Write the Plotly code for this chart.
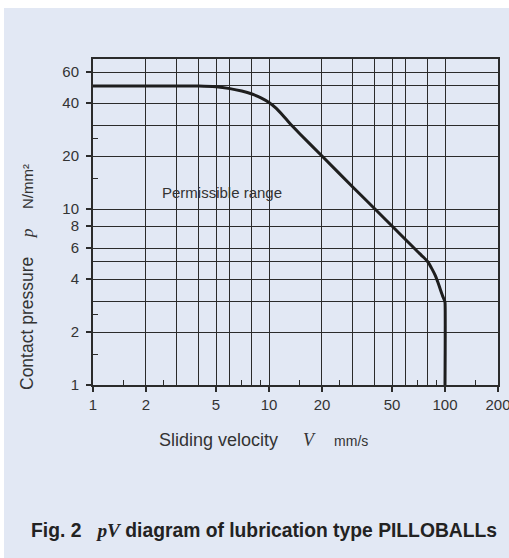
import numpy as np
import plotly.graph_objects as go

# ---- data ----
velocity = [1, 2, 3, 4, 5, 6, 7, 8, 9, 10, 11, 12, 13, 15, 20, 30, 40, 50, 60, 70, 75, 80, 84, 88, 91, 94, 97, 99, 100, 100]
pressure = [50, 50, 50, 50, 49.5, 48.3, 46.8, 45, 42.8, 40.3, 37.3, 34, 31, 26.7, 20, 13.3, 10, 8, 6.67, 5.72, 5.35, 5, 4.6, 4.2, 3.85, 3.5, 3.2, 3.05, 2.95, 1]

x_label_vals = [1, 2, 5, 10, 20, 50, 100, 200]
x_grid_vals = [3, 4, 6, 8, 30, 40, 60, 80]
x_small_ticks = [1.5, 2.5, 7, 9, 15, 25, 70, 90, 150]

y_label_vals = [1, 2, 4, 6, 8, 10, 20, 40, 60]
y_grid_vals = [3, 5, 30, 50]
y_small_ticks = [1.5, 2.5, 15, 25]

BG = "#e2e8f4"
INK = "#2b2b2b"
SANS = "Liberation Sans, Arial, sans-serif"
SERIF = "Liberation Serif"

W, H = 509, 558
L, R, T, B = 93, 11, 59, 173
pw = W - L - R
ph = H - T - B


def px(xpix):
    return (xpix - L) / pw


def py(ypix):
    return 1 - (ypix - T) / ph


fig = go.Figure()
fig.add_trace(go.Scatter(x=velocity, y=pressure, mode="lines",
                         line=dict(color="#1e1e1e", width=3, shape="spline", smoothing=0.4),
                         showlegend=False, hoverinfo="skip"))
# helper invisible trace for overlay axes (small inside ticks)
fig.add_trace(go.Scatter(x=[1], y=[1], xaxis="x2", yaxis="y2", mode="markers",
                         marker=dict(opacity=0), showlegend=False, hoverinfo="skip"))

xr = [0, np.log10(200) + 1e-4]
yr = [0, (385 - 59) / 176]

fig.update_layout(
    width=W, height=H,
    margin=dict(l=L, r=R, t=T, b=B, autoexpand=False),
    paper_bgcolor=BG,
    plot_bgcolor=BG,
    font=dict(family=SANS, size=15, color="#333"),
    xaxis=dict(type="log", range=xr, tickmode="array", tickvals=x_label_vals,
               ticktext=[str(v) for v in x_label_vals], automargin=False,
               ticklabeloverflow="allow",
               ticks="outside", ticklen=5, tickwidth=1.5, tickcolor=INK,
               showgrid=True, gridcolor=INK, gridwidth=1,
               showline=True, linecolor=INK, linewidth=2, mirror=True,
               zeroline=False,
               minor=dict(tickmode="array", tickvals=x_grid_vals, showgrid=True,
                          gridcolor=INK, gridwidth=1, ticks=""),
               tickfont=dict(size=15, color="#333")),
    yaxis=dict(type="log", range=yr, tickmode="array", tickvals=y_label_vals,
               ticktext=[str(v) for v in y_label_vals], automargin=False,
               ticks="outside", ticklen=5, tickwidth=1.5, tickcolor=INK,
               ticklabelstandoff=4,
               showgrid=True, gridcolor=INK, gridwidth=1,
               showline=True, linecolor=INK, linewidth=2, mirror=True,
               zeroline=False,
               minor=dict(tickmode="array", tickvals=y_grid_vals, showgrid=True,
                          gridcolor=INK, gridwidth=1, ticks=""),
               tickfont=dict(size=15, color="#333")),
    xaxis2=dict(type="log", range=xr, overlaying="x", side="bottom", anchor="y",
                tickmode="array", tickvals=x_small_ticks, ticks="inside", ticklen=5,
                tickwidth=1, tickcolor=INK, showticklabels=False, showgrid=False,
                showline=False, zeroline=False, automargin=False),
    yaxis2=dict(type="log", range=yr, overlaying="y", side="left", anchor="x",
                tickmode="array", tickvals=y_small_ticks, ticks="inside", ticklen=5,
                tickwidth=1, tickcolor=INK, showticklabels=False, showgrid=False,
                showline=False, zeroline=False, automargin=False),
)

# white page edges around the light-blue panel
fig.add_shape(type="rect", xref="paper", yref="paper", layer="above",
              x0=px(-2), x1=px(4), y0=py(H + 2), y1=py(-2),
              fillcolor="white", line=dict(width=0))
fig.add_shape(type="rect", xref="paper", yref="paper", layer="above",
              x0=px(-2), x1=px(W + 2), y0=py(8), y1=py(-2),
              fillcolor="white", line=dict(width=0))

fig.add_annotation(x=np.log10(5.4), y=np.log10(12.4), xref="x", yref="y",
                   text="Permissible range", showarrow=False,
                   xanchor="center", yanchor="middle",
                   font=dict(size=15, color="#333", family=SANS))

fig.add_annotation(x=px(263), y=py(440), xref="paper", yref="paper",
                   xanchor="center", yanchor="middle",
                   text=f"Sliding velocity     <span style='font-family:{SERIF}'><i>V</i></span>    <span style='font-size:14px'>mm/s</span>",
                   showarrow=False, font=dict(size=18, color="#333", family=SANS))

fig.add_annotation(x=px(27), y=py(277), xref="paper", yref="paper",
                   xanchor="center", yanchor="middle",
                   text=f"Contact pressure    <span style='font-family:{SERIF}'><i>p</i></span>    <span style='font-size:15px'>N/mm²</span>",
                   showarrow=False, textangle=-90,
                   font=dict(size=17.5, color="#333", family=SANS))

fig.add_annotation(x=px(264), y=py(530), xref="paper", yref="paper",
                   xanchor="center", yanchor="middle",
                   text=f"<b>Fig. 2   <span style='font-family:{SERIF}'><i>pV</i></span> diagram of lubrication type PILLOBALLs</b>",
                   showarrow=False, font=dict(size=19.3, color="#222", family=SANS))

fig.write_html("out.html", config={"displayModeBar": False},
               post_script="document.body.style.margin='0';document.body.style.overflow='hidden';")
